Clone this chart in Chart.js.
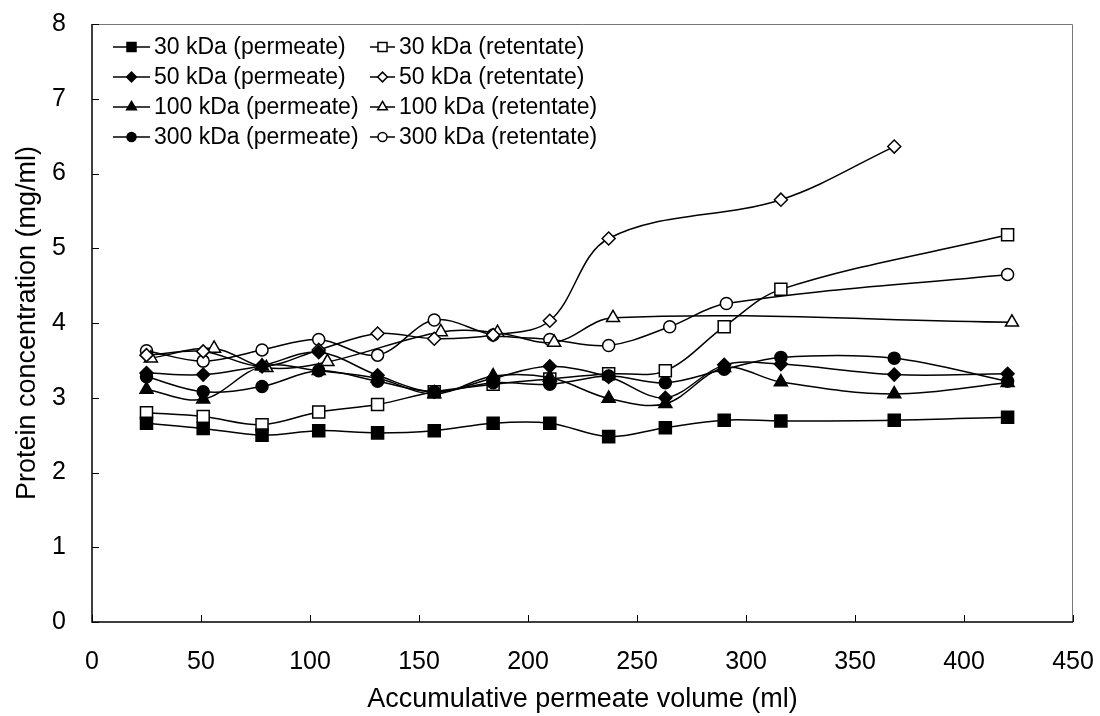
<!DOCTYPE html>
<html>
<head>
<meta charset="utf-8">
<script src="https://cdn.jsdelivr.net/npm/chart.js@4.4.1/dist/chart.umd.min.js"></script>
<style>
  html, body { margin: 0; padding: 0; background: #fff; }
</style>
</head>
<body>
<canvas id="chart" width="1100" height="716"></canvas>
<script>
// accumulative permeate volume (ml) and protein concentration (mg/ml)
const volAll = [25, 51, 78, 104, 131, 157, 184, 210, 237, 263, 290, 316, 368, 420];

const conc30p  = [2.66, 2.59, 2.50, 2.56, 2.53, 2.56, 2.66, 2.66, 2.48, 2.60, 2.70, 2.69, 2.70, 2.74];
const conc50p  = [3.33, 3.31, 3.43, 3.61, 3.30, 3.08, 3.26, 3.42, 3.28, 3.00, 3.44, 3.45, 3.31, 3.32];
const conc100p = [3.11, 2.98, 3.42, 3.36, 3.26, 3.05, 3.29, 3.27, 2.99, 2.92, 3.40, 3.21, 3.05, 3.20];
const conc300p = [3.28, 3.08, 3.15, 3.36, 3.22, 3.08, 3.20, 3.18, 3.29, 3.20, 3.38, 3.54, 3.53, 3.22];

const vol30r  = [25, 51, 78, 104, 131, 157, 184, 210, 237, 263, 290, 316, 420];
const conc30r = [2.80, 2.75, 2.64, 2.81, 2.91, 3.08, 3.18, 3.25, 3.32, 3.36, 3.95, 4.45, 5.18];

const vol50r  = [25, 51, 78, 104, 131, 157, 184, 210, 237, 316, 368];
const conc50r = [3.57, 3.62, 3.42, 3.64, 3.86, 3.79, 3.84, 4.03, 5.13, 5.65, 6.36];

const vol100r  = [27, 56, 80, 108, 160, 186, 212, 239, 422];
const conc100r = [3.53, 3.66, 3.40, 3.48, 3.88, 3.87, 3.74, 4.07, 4.01];

const vol300r  = [25, 51, 78, 104, 131, 157, 184, 210, 237, 265, 291, 420];
const conc300r = [3.63, 3.49, 3.64, 3.78, 3.57, 4.04, 3.84, 3.78, 3.70, 3.95, 4.26, 4.65];

const seriesNames = [
    '30 kDa (permeate)', '50 kDa (permeate)', '100 kDa (permeate)', '300 kDa (permeate)',
    '30 kDa (retentate)', '50 kDa (retentate)', '100 kDa (retentate)', '300 kDa (retentate)'
];

const xTicks = [0, 50, 100, 150, 200, 250, 300, 350, 400, 450];
const yTicks = [0, 1, 2, 3, 4, 5, 6, 7, 8];

const FONT = '"Liberation Sans", Arial, sans-serif';

function pairs(xs, ys) {
    return xs.map((x, i) => ({ x: x, y: ys[i] }));
}

function makeSet(label, xs, ys, style, filled, radius) {
    return {
        label: label,
        data: pairs(xs, ys),
        borderColor: '#000',
        borderWidth: 1.5,
        pointStyle: style,
        pointRadius: radius,
        pointBorderWidth: 1.5,
        pointBorderColor: '#000',
        pointBackgroundColor: filled ? '#000' : '#fff',
        tension: 0.35,
        fill: false
    };
}

const datasets = [
    makeSet(seriesNames[0], volAll, conc30p, 'rect', true, 8.5),
    makeSet(seriesNames[1], volAll, conc50p, 'rectRot', true, 6.5),
    makeSet(seriesNames[2], volAll, conc100p, 'triangle', true, 7.5),
    makeSet(seriesNames[3], volAll, conc300p, 'circle', true, 6),
    makeSet(seriesNames[4], vol30r, conc30r, 'rect', false, 8.5),
    makeSet(seriesNames[5], vol50r, conc50r, 'rectRot', false, 6.5),
    makeSet(seriesNames[6], vol100r, conc100r, 'triangle', false, 7.5),
    makeSet(seriesNames[7], vol300r, conc300r, 'circle', false, 6)
];

// frame + inward tick marks
const framePlugin = {
    id: 'frame',
    afterDraw(chart) {
        const ctx = chart.ctx;
        const a = chart.chartArea;
        const xs = chart.scales.x;
        const ys = chart.scales.y;
        ctx.save();
        ctx.strokeStyle = '#777';
        ctx.lineWidth = 1;
        ctx.beginPath();
        ctx.moveTo(a.left, a.top + 0.5);
        ctx.lineTo(a.right - 0.5, a.top + 0.5);
        ctx.lineTo(a.right - 0.5, a.bottom);
        ctx.stroke();
        ctx.strokeStyle = '#000';
        ctx.lineWidth = 1.5;
        ctx.beginPath();
        ctx.moveTo(a.left, a.top);
        ctx.lineTo(a.left, a.bottom);
        ctx.lineTo(a.right, a.bottom);
        ctx.stroke();
        ctx.lineWidth = 1;
        ctx.beginPath();
        xTicks.forEach(v => {
            const px = Math.round(xs.getPixelForValue(v)) + 0.5;
            ctx.moveTo(px, a.bottom);
            ctx.lineTo(px, a.bottom - 7);
        });
        yTicks.forEach(v => {
            const py = Math.round(ys.getPixelForValue(v)) + 0.5;
            ctx.moveTo(a.left, py);
            ctx.lineTo(a.left + 7, py);
        });
        ctx.stroke();
        ctx.restore();
    }
};

// legend with line + marker, two columns inside the plot
const legendPlugin = {
    id: 'boxLegend',
    afterDraw(chart) {
        const ctx = chart.ctx;
        ctx.save();
        ctx.font = '23px ' + FONT;
        ctx.textBaseline = 'middle';
        ctx.textAlign = 'left';
        chart.data.datasets.forEach((ds, i) => {
            const col = i < 4 ? 0 : 1;
            const row = i % 4;
            const x0 = col === 0 ? 113 : 370;
            const len = col === 0 ? 37 : 25;
            const y = 47 + row * 30;
            ctx.strokeStyle = '#000';
            ctx.lineWidth = 1.5;
            ctx.beginPath();
            ctx.moveTo(x0, y);
            ctx.lineTo(x0 + len, y);
            ctx.stroke();
            ctx.fillStyle = ds.pointBackgroundColor;
            ctx.strokeStyle = '#000';
            Chart.helpers.drawPoint(ctx, {
                pointStyle: ds.pointStyle,
                radius: ds.pointRadius * 0.75,
                borderWidth: 1.5,
                rotation: 0
            }, x0 + len / 2, y);
            ctx.fillStyle = '#000';
            ctx.fillText(ds.label, x0 + len + 4, y + 1);
        });
        ctx.restore();
    }
};

new Chart(document.getElementById('chart'), {
    type: 'line',
    data: { datasets: datasets },
    options: {
        responsive: false,
        animation: false,
        devicePixelRatio: 1,
        layout: { padding: { top: 24, right: 27, left: 0, bottom: 0 } },
        plugins: {
            legend: { display: false },
            tooltip: { enabled: false }
        },
        scales: {
            x: {
                type: 'linear',
                min: 0,
                max: 450,
                grid: { display: false },
                border: { display: false },
                afterBuildTicks: s => { s.ticks = xTicks.map(v => ({ value: v })); },
                afterFit: s => {
                    s.height = 94;
                    s.paddingRight = 0;
                    s.paddingLeft = 0;
                },
                ticks: {
                    color: '#000',
                    padding: 17,
                    maxRotation: 0,
                    font: { family: FONT, size: 25 }
                },
                title: {
                    display: true,
                    text: 'Accumulative permeate volume (ml)',
                    color: '#000',
                    padding: { top: 4, bottom: 0 },
                    font: { family: FONT, size: 27 }
                }
            },
            y: {
                min: 0,
                max: 8,
                grid: { display: false },
                border: { display: false },
                afterBuildTicks: s => { s.ticks = yTicks.map(v => ({ value: v })); },
                afterFit: s => {
                    s.width = 92;
                    s.paddingTop = 0;
                    s.paddingBottom = 0;
                },
                ticks: {
                    color: '#000',
                    padding: 18,
                    font: { family: FONT, size: 25 }
                },
                title: {
                    display: true,
                    text: 'Protein concentration (mg/ml)',
                    color: '#000',
                    padding: { top: 11, bottom: 0 },
                    font: { family: FONT, size: 27 }
                }
            }
        }
    },
    plugins: [framePlugin, legendPlugin]
});
</script>
</body>
</html>
